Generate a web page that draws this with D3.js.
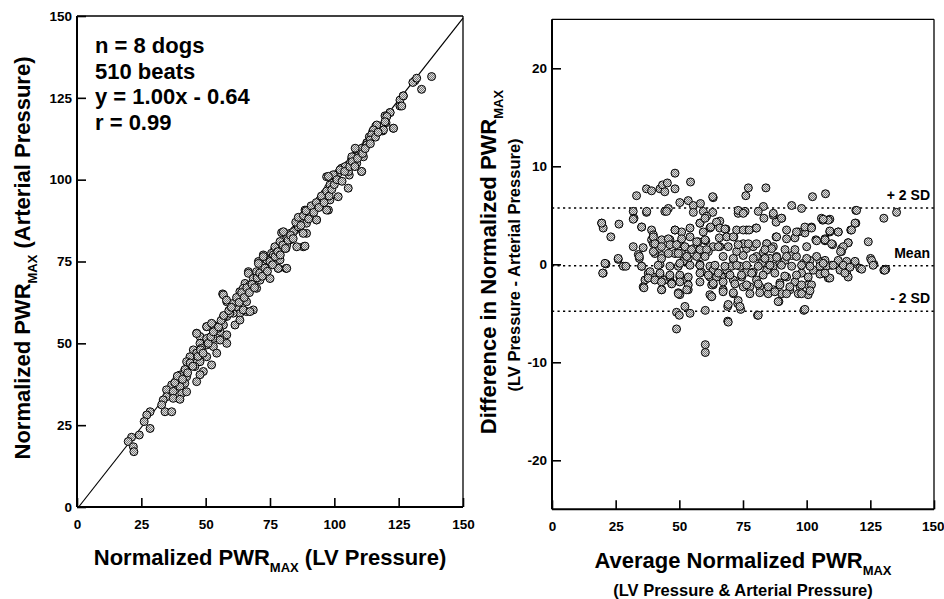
<!DOCTYPE html>
<html>
<head>
<meta charset="utf-8">
<script src="https://cdn.jsdelivr.net/npm/d3@7"></script>
<style>
  body { margin: 0; background: #fff; }
  svg { display: block; font-family: "Liberation Sans", Arial, sans-serif; font-weight: bold; }
</style>
</head>
<body>
<svg id="chart" width="944" height="599"></svg>
<script>
// --- data ---
// left: [LV pressure, arterial pressure]
const corrPts = [
  [137.8,131.5],[131.3,130.2],[130.5,129.7],[133.9,127.6],[126.8,125.6],[125.5,124.3],[125.5,122.5],[121.6,120.5],
  [119.7,119.5],[120.1,117.4],[122.9,115.7],[118.8,114.9],[116.2,116.4],[114.9,114.7],[113.6,113.1],[112.6,111.3],
  [111.3,109.8],[110,108.1],[110.6,102.5],[108,107.2],[106.7,106.2],[105.4,104.5],[105.8,101.4],[102.8,103.5],
  [101.5,102],[100.3,100.4],[99,98.9],[101.5,94.8],[105.4,97.4],[97.7,97.4],[96.4,95.8],[95.1,94.3],[98.3,93.8],
  [97.7,90.7],[93.1,92.6],[91.8,91.3],[90.5,89.7],[89.2,88.2],[93.1,87.7],[87.9,86.9],[86.6,85.7],[84.7,84.6],
  [82.8,83.6],[89.2,83.6],[81.5,82.1],[79.5,83.8],[78.9,80.6],[76.9,79],[87.9,79.5],[81.2,79],[75.6,77.5],
  [72.4,77],[73.7,75.5],[70.5,75],[81.2,72.9],[78.2,72.9],[66.6,71.9],[69.2,70.4],[65.3,68.3],[66.6,66.5],
  [69.8,66.8],[63.3,65.8],[56.6,65.1],
  [58.2,62.7],[62,62.2],[65.9,62.7],[68.5,60.2],[65.9,59.7],[63.3,59.2],[60.7,59.2],[58.2,58.2],[61.4,55.6],
  [63.3,57.1],[56.9,55.6],[53,55.6],[50.4,55.1],[53,54.1],[55.6,53.6],[58.2,52.6],[46.5,53.1],[47.8,52.1],
  [50.4,51.5],[53,51.5],[55.6,51],[58.2,50],[47.8,50],[50.4,49.5],[53,49],[48.4,48.5],[45.2,48],[54.3,47],
  [50.4,45.9],[46.5,47],[43.9,45.9],[52.3,43.4],[47.8,44.4],[42.6,44.4],[45.8,42.9],[49.1,41.4],[47.8,40.4],
  [46.5,38.3],[41.9,41.9],[40,40.3],[42.6,39.8],[38.7,38.8],[41.9,37.8],[36.8,37.3],[40,36.8],[34.8,35.8],
  [37.4,35.3],[40.7,34.7],[42.6,35.2],[34.8,33.7],[37.4,33.2],[40,32.9],[33.5,32.7],[32.9,31.2],[34.2,29.1],
  [36.8,29.1],[28.4,29.1],[27.1,28.1],[26.1,26.1],[28.4,24],[24.2,22],[21.2,21.3],[19.9,20],[21.9,18.4],[22.1,16.9],
  [46.5,53],[50.4,55.1],[52.3,56.1],[54.9,54.6],[56.9,58.1],[59.4,59.2],[62,61.2],[64.6,60.2],[67.2,59.7],
  [60.7,62.2],[56.9,64.8],[58.1,63.2],[63.3,63.7],[65.9,65.3],[64.6,66.8],[67.2,67.8],[66.6,71.4],[68.5,69.8],
  [69.8,71.9],[71.1,69.3],[75,69.8],[70.5,74.4],[72.4,76.5],[75,75.5],[76.3,77],[78.2,72.9],[81.5,72.9],
  [78.9,75.5],[76.9,79.5],[78.9,81.1],[81.5,80],[82.8,81.6],[85.4,79.5],[88.6,79.7],[80.2,84.1],[84.1,84.1],
  [86,85.6],[87.9,83.6],[89.2,86.7],[90.5,88.7],[88.6,90.7],[93.1,87.7],[91.8,91.7],[94.4,93.8],[96.4,95.8],
  [97,90.7],[98.3,98.4],[97,100.9],
  [132,131],[126.8,125.6],[126.2,122.5],[121.7,120.5],[120.4,119.3],[119.7,117.7],[123,115.7],[119.1,115.2],
  [116.5,116.7],[115.2,115.2],[114.5,113.7],[113.9,112.1],[112.6,110.6],[110.7,109.6],[108.1,109.6],[108.7,107],
  [111.3,107],[106.8,107],[106.1,105],[104.2,104],[108.7,105],[110.6,102.5],[102.2,103],[99.6,101.5],[97.7,101],
  [105.5,102.5],
  [85,87],[86,88.5],[87,86],[88,89],[89,90.5],[90,88],[91,92],[92,90],[93,93],[94,91.5],[95,95],[96,93],
  [97,96.5],[98,95],[99,97],[100,98.5],[101,100],[103,99.5],[104,102.5],[106,104],[107,105.5],[108,104],
  [109,106.5],[111,108],[112,109.5],[114,111],[116,113],[117,114.5],
  [62,64],[63,62.5],[64,65.5],[65,64],[66,67],[67,65.5],[68,68],[69,67],[70,70],[71,71.5],[72,70.5],[73,73],
  [74,72],[75,75],[76,74],[77,76.5],[78,78],[79,77],[80,80],[81,79],[82,81.5],[83,83],[84,82],
  [38,38],[39,40],[41,39],[42,42],[43,41],[44,44],[45,43],[47,46],[48,48],[49,47],[51,50],[52,52],[53,53.5],
  [55,55],[56,57],[57,58.5],[59,60],[60,61]
];

// right: [average, difference]
const baPts = [
  [19.5,4.2],[20.1,3.7],[23.1,2.8],[26.3,4.1],[20.1,-0.9],[21.2,0.03],[26,0.5],[28,-0.2],[29,-0.2],
  [33.2,7],[31.9,5.4],[32.2,4.7],[35.2,3.8],[37.1,5.3],[37.1,7.7],[39.1,7.5],[42.4,7.7],[43.4,8.1],[45.3,8.3],
  [44.3,7.4],[48.3,9.3],[48.3,7.7],[54.4,8.4],[44.3,5.4],[45.7,5.7],[50.2,6.3],[53.5,6.5],[55.5,6.0],[58.3,6.2],
  [55.5,5.3],[59.4,5.4],[63.3,6.8],[63.1,5.3],[60.7,4.9],[58.1,4.2],[65.9,4.4],[68.3,3.6],[62,3.7],[39.1,3.5],
  [39.8,3.0],[39.1,2.5],[39.8,2.1],[43.1,2.5],[46.3,2.5],[48.3,3.5],[50.9,3.3],[54.2,3.7],[54.2,2.8],[50.2,2.1],
  [57.4,2.3],[60.4,2.4],[59.4,3.3],[65.7,2.7],[68.6,2.8],[71.4,2.8],[63.3,1.8],[65.9,1.8],[31.9,1.8],[35.8,1.7],
  [33.9,1.0],[34.3,0.6],[35.2,-0.2],[37.8,-0.9],[39.8,-1.3],[36.5,-1.6],[35.8,-2.3],[40.4,1.1],[43.1,0.9],
  [42.4,0],[42.4,-1.1],[44.3,-1.6],[43.1,-2.6],[46.3,-1.3],[47,-1.9],[49.6,-0.2],[50.2,-1.3],[49.6,-2.9],
  [50.2,-3.1],[52.8,-1.6],[53.5,-2.6],[48.3,1.1],[50.9,1.1],[53.5,1.5],[55.5,1.6],[53.5,0.6],[51.5,0.3],
  [57.4,1.1],[61.4,1.3],[58.1,0],[58.7,-0.8],[62,-0.2],[63.3,-0.6],[62,-1.3],[63.3,-2.1],[62.7,-3.3],
  [66.6,-1.3],[67.2,-2.6],[68.6,-0.6],[70.5,-0.2],[71.2,0.5],[72.5,1.3],[73.8,-0.2],[71.2,-1.6],[74.5,-1.3],
  [75.1,-2.3],[71.2,-3],[77.7,-2.3],[76.4,1.6],[79,1.8],[75.1,2.1],[73.1,5.2],[75.8,5.4],[72.5,3.5],[76.4,3.5],
  [80.1,3.7],[77.1,7.8],[76.1,7.0],[84,7.8],[83,5.9],[81,5.4],[83.2,4.7],[86.9,5.0],[90.2,4.7],[88,4.3],
  [92.1,3.5],[88,2.8],[84.3,2.1],[86.9,1.8],[83,1.2],[80.3,0.8],[82.3,0.1],[85.6,0.6],[88.2,0.8],[84.3,-0.6],
  [86.9,-0.2],[89.5,0.1],[91.5,0.4],[94.1,0.9],[94.1,6],[98,5.7],[102.3,6.9],[107.4,7.2],[95.4,2.7],[99.3,3.2],
  [96.7,3.3],[101.9,3.8],[100,1.8],[103.6,2.5],[106.3,4.5],[109.1,4.6],[109.1,3.3],[112.4,3.3],[107.2,2.4],
  [110.2,2.0],[113.7,1.6],[116.3,2.2],[117.3,3.5],[119.3,4.2],[119.3,5.5],[113.7,1.3],[112.4,0.4],[109.8,-0.1],
  [113.1,-0.6],[115.7,-0.9],[116.3,-1.3],[119,0.1],[120.9,-0.4],[124.2,2.3],[125.1,0.6],[126.4,0],[130.3,-0.6],
  [131.1,-0.5],[130.3,4.7],[135.3,5.3],[96.0,0.8],[98.7,0.1],[101.3,0.4],[105.2,0.3],[107.8,-0.2],[102.6,-0.6],
  [106.5,-0.9],[108.5,-1.4],[98,-0.9],[95.4,-1.8],[92.1,-1.3],[89.5,-1.9],[93.4,-2.6],[97.4,-2.3],[100.6,-2.1],
  [100.6,-3.1],[96.7,-3.0],[90.2,-3.0],[86.9,-2.6],[84.9,-3.0],[81.6,-2.3],[80.3,-1.6],[79,-0.8],[76.4,-0.8],
  [48.9,-4.9],[50,-5.2],[52.2,-4.3],[54.2,-5],[60.2,-4.7],[69,-4.3],[72.9,-4],[74.1,-4.6],[80.7,-5.2],[89.1,-3.8],
  [98.9,-4.7],[48.9,-6.6],[69,-5.8],[60.2,-8.2],[60.2,-9],
  [63.1,6.9],[45,5.4],[37.2,5.4],[31.9,4.6],[35.2,3.8],[48.3,3.5],[58.1,4.2],[60.1,4.7],[62.3,3.8],[39.8,2.8],
  [45.7,2.6],[50.9,2.6],[56.8,2.3],[60.1,2.5],[40.4,2.1],[43.0,1.8],[46.3,2.0],[48.9,2.0],[52.2,1.8],[54.8,1.5],
  [58.1,1.5],[60.7,1.5],[34.3,0.8],[39.8,1.3],[43.0,0.6],[45.7,1.1],[49.6,1.1],[52.9,0.8],[56.8,0.8],[60.1,0.8],
  [41.7,-0.1],[46.3,-0.2],[50.2,0.1],[54.2,-0.1],[58.1,-0.1],[35.2,-0.2],[38.5,-0.75],[42.4,-0.9],[46.3,-1.1],
  [50.2,-1.1],[53.5,-1.3],[58.1,-0.9],[61.4,-1.1],[64.6,-1.3],[37.8,-1.4],[40.4,-1.6],[43.0,-1.8],[47,-2],
  [50.2,-1.8],[53.5,-2.1],[58.1,-1.8],[62.7,-2.1],[36.1,-2.4],[43.0,-2.6],[49.6,-3],[52.9,-2.6],[62,-3.1],
  [19.5,4.2],[20.8,0.1],[19.9,-0.9],[26,0.6],
  [73.1,5.5],[75.1,5.2],[86.9,5.2],[90.1,4.7],[105.8,4.7],[108.5,4.5],[64.6,4.3],[65.9,3.7],[67.9,3.6],
  [71.2,2.8],[75.1,3.5],[77.4,3.5],[80.3,3.7],[88.2,2.8],[92.1,2.6],[96,3.3],[99.3,3.8],[101.9,3.7],
  [103.9,2.4],[107.2,2.6],[65.3,1.8],[69.2,1.8],[73.1,2],[77.1,2.1],[80.3,2.1],[84.3,2.1],[86.2,1.6],
  [83.6,1.5],[91.5,1.5],[95.4,1.5],[67.2,0.8],[71.2,0.6],[75.1,0.9],[79,0.6],[83.6,0.6],[88.2,0.7],
  [92.1,0.8],[100,0.6],[103.9,0.8],[107.2,0.4],[64,-0.1],[67.9,-0.2],[72.5,-0.1],[76.4,-0.1],[81,-0.2],
  [85.6,-0.1],[90.1,-0.1],[94.1,-0.2],[98,-0.1],[101.3,-0.2],[105.2,-0.2],[65.3,-0.9],[69.9,-1.1],[74.4,-1.1],
  [78.4,-0.9],[82.9,-1.1],[87.5,-0.9],[91.4,-1.2],[96,-1.1],[100.6,-1.3],[105.2,-1],[63.3,-1.95],[67.2,-1.8],
  [71.8,-2],[76.4,-2.1],[81,-2],[84.9,-2.3],[89.5,-2.1],[93.4,-2.3],[98,-2.1],[101.9,-2.1],[67.2,-2.8],
  [71.2,-2.9],[77.7,-3],[81.6,-2.9],[87.5,-2.8],[92.1,-3],[98,-3],[101.3,-2.7],[62.7,-3.3],[73.1,-3.7],
  [69.2,-4.1],[73.8,-4.3],[88.8,-3.8],[81,-5.2],[69.2,-5.9],[99.3,-4.6],
  [119.6,5.5],[106.5,4.6],[119,4.2],[109.1,3.4],[112.4,3.3],[117.6,3.5],[107.2,2.5],[109.8,2.1],[116.3,2.2],
  [114.4,1.8],[113.3,1.3],[115.7,0.3],[119,0.3],[110.4,-0.1],[106.5,0.1],[114.4,-0.1],[117,-0.3],[125.5,0.4],
  [126.1,-0.1],[121.6,-0.5],[130.7,-0.6],[115,-0.9],[109.1,-1.4],[107.2,-0.9]
];

const xTicks = [0, 25, 50, 75, 100, 125, 150];
const corrYTicks = [0, 25, 50, 75, 100, 125, 150];
const baYTicks = [-20, -10, 0, 10, 20];
const statLines = ["n = 8 dogs", "510 beats", "y = 1.00x - 0.64", "r = 0.99"];
const fit = { slope: 1.00, intercept: -0.64 };
// Bland-Altman reference lines
const refLines = [
  { label: "+ 2 SD", value: 5.75 },
  { label: "Mean", value: -0.15 },
  { label: "- 2 SD", value: -4.8 }
];

const FONT = "'Liberation Sans', Arial, sans-serif";
const svg = d3.select("#chart");

// checkered grey fill like the printed markers
const pat = svg.append("defs").append("pattern")
  .attr("id", "dotfill").attr("width", 2).attr("height", 2)
  .attr("patternUnits", "userSpaceOnUse");
pat.append("rect").attr("width", 2).attr("height", 2).attr("fill", "#e2e2e2");
pat.append("rect").attr("width", 1).attr("height", 1).attr("fill", "#777");
pat.append("rect").attr("x", 1).attr("y", 1).attr("width", 1).attr("height", 1).attr("fill", "#777");

// draws frame + inward ticks for one panel
function drawAxes(x, y, yTickVals) {
  const [x0, x1] = x.range();
  const [y0, y1] = y.range(); // y0 bottom, y1 top

  const xa = svg.append("g")
    .attr("transform", `translate(0,${y0})`)
    .call(d3.axisBottom(x).tickValues(xTicks).tickSizeInner(-9).tickSizeOuter(0)
      .tickPadding(12).tickFormat(d => String(d)));
  const ya = svg.append("g")
    .attr("transform", `translate(${x0},0)`)
    .call(d3.axisLeft(y).tickValues(yTickVals).tickSizeInner(-9).tickSizeOuter(0)
      .tickPadding(5).tickFormat(d => String(d)));

  [xa, ya].forEach(g => {
    g.attr("font-size", 13.5).attr("font-family", FONT).attr("font-weight", "bold");
    g.select(".domain").remove();
    g.selectAll(".tick line").attr("stroke", "#000").attr("stroke-width", 1.6);
    g.selectAll(".tick text").attr("fill", "#000")
      .attr("font-size", 13.5).attr("font-weight", "bold");
  });

  // keep the last x label inside the page edge
  xa.selectAll(".tick text").filter(d => x(d) > 930).attr("text-anchor", "end").attr("x", 10);

  // frame: heavier left/bottom
  svg.append("line").attr("x1", x0).attr("x2", x1).attr("y1", y1).attr("y2", y1)
    .attr("stroke", "#000").attr("stroke-width", 1.3);
  svg.append("line").attr("x1", x1).attr("x2", x1).attr("y1", y1).attr("y2", y0)
    .attr("stroke", "#000").attr("stroke-width", 1.3);
  svg.append("line").attr("x1", x0).attr("x2", x1).attr("y1", y0).attr("y2", y0)
    .attr("stroke", "#000").attr("stroke-width", 2);
  svg.append("line").attr("x1", x0).attr("x2", x0).attr("y1", y1).attr("y2", y0)
    .attr("stroke", "#000").attr("stroke-width", 2);
}

function drawPoints(pts, x, y) {
  svg.append("g").selectAll("circle")
    .data(pts)
    .enter()
    .append("circle")
    .attr("cx", d => x(d[0]))
    .attr("cy", d => y(d[1]))
    .attr("r", 4)
    .attr("fill", "url(#dotfill)")
    .attr("stroke", "#000")
    .attr("stroke-width", 1);
}

// text with a "MAX" subscript after "PWR"
function subTitle(g, before, after, size, subSize, shift) {
  g.append("tspan").text(before).style("font-size", size + "px");
  g.append("tspan").text("MAX").style("font-size", subSize + "px").attr("dy", shift);
  if (after) g.append("tspan").text(after).style("font-size", size + "px").attr("dy", -shift);
}

// ---------------- left panel ----------------
const lx = d3.scaleLinear().domain([0, 150]).range([77, 463]);
const ly = d3.scaleLinear().domain([0, 150]).range([507, 16]);

drawAxes(lx, ly, corrYTicks);

const fx0 = -fit.intercept / fit.slope;
svg.append("line")
  .attr("x1", lx(fx0)).attr("y1", ly(0))
  .attr("x2", lx(150)).attr("y2", ly(fit.slope * 150 + fit.intercept))
  .attr("stroke", "#000").attr("stroke-width", 1.2);

drawPoints(corrPts, lx, ly);

svg.append("g").selectAll("text")
  .data(statLines)
  .enter()
  .append("text")
  .attr("x", 95)
  .attr("y", (d, i) => 53 + i * 25.5)
  .style("font-size", "22px")
  .text(d => d);

subTitle(svg.append("text").attr("x", 270).attr("y", 565).attr("text-anchor", "middle"),
  "Normalized PWR", " (LV Pressure)", 22, 13, 7);

subTitle(svg.append("text").attr("text-anchor", "middle")
    .attr("transform", "translate(30,258) rotate(-90)"),
  "Normalized PWR", " (Arterial Pressure)", 22, 13, 7);

// ---------------- right panel ----------------
const rx = d3.scaleLinear().domain([0, 150]).range([552, 934]);
const ry = d3.scaleLinear().domain([-25, 25]).range([509.3, 19.3]);

drawAxes(rx, ry, baYTicks);

svg.append("g").selectAll("line")
  .data(refLines)
  .enter()
  .append("line")
  .attr("x1", rx(0)).attr("x2", rx(150))
  .attr("y1", d => ry(d.value)).attr("y2", d => ry(d.value))
  .attr("stroke", "#000").attr("stroke-width", 1.5)
  .attr("stroke-dasharray", "2.2,3.3");

drawPoints(baPts, rx, ry);

svg.append("g").selectAll("text")
  .data(refLines)
  .enter()
  .append("text")
  .attr("x", 930)
  .attr("y", d => ry(d.value) - 8)
  .attr("text-anchor", "end")
  .style("font-size", "14px")
  .text(d => d.label);

subTitle(svg.append("text").attr("x", 743).attr("y", 568).attr("text-anchor", "middle"),
  "Average Normalized PWR", null, 22, 13, 7);
svg.append("text").attr("x", 743).attr("y", 596).attr("text-anchor", "middle")
  .style("font-size", "16.5px")
  .text("(LV Pressure & Arterial Pressure)");

subTitle(svg.append("text").attr("text-anchor", "middle")
    .attr("transform", "translate(496,262) rotate(-90)"),
  "Difference in Normalized PWR", null, 22, 13, 7);
svg.append("text").attr("text-anchor", "middle")
  .attr("transform", "translate(520,265) rotate(-90)")
  .style("font-size", "16.5px")
  .text("(LV Pressure - Arterial Pressure)");
</script>
</body>
</html>
